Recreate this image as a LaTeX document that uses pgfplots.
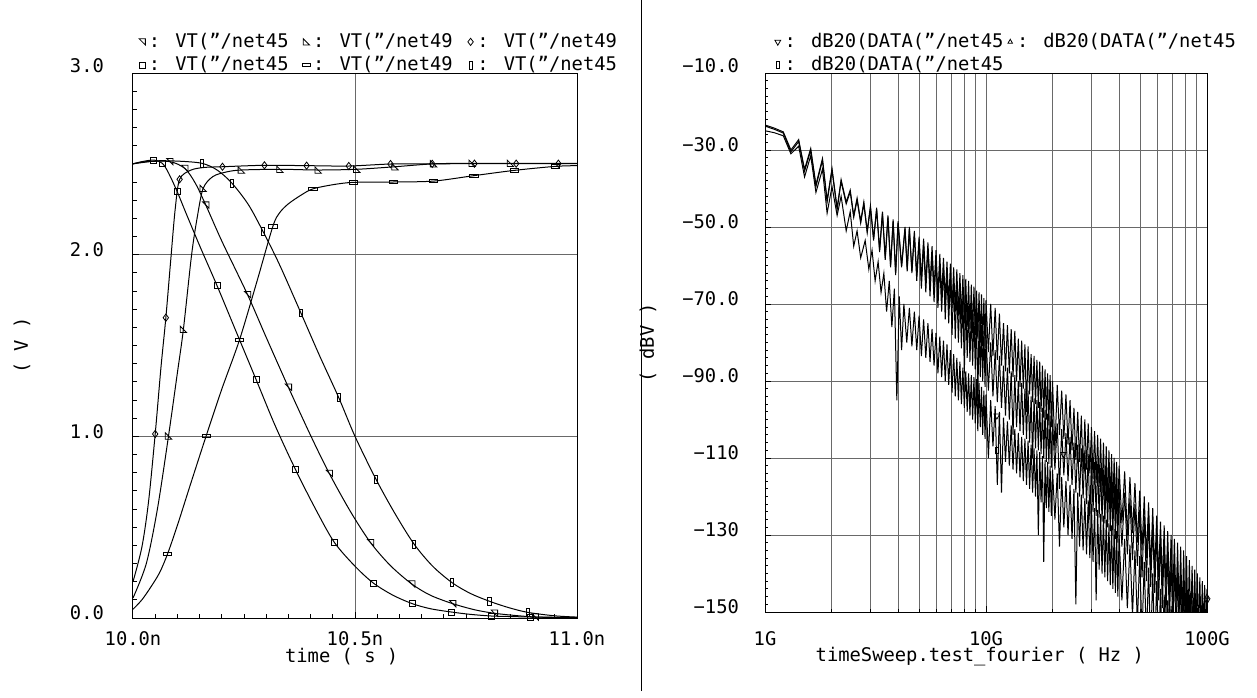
\documentclass[border=0pt]{standalone}
\usepackage{fontspec}
\setmainfont{DejaVu Sans Mono}
\usepackage{pgfplots}
\pgfplotsset{compat=1.18}
\definecolor{gridgray}{RGB}{105,105,105}
\pgfdeclareplotmark{rtri}{%
  \pgfpathmoveto{\pgfqpoint{-\pgfplotmarksize}{\pgfplotmarksize}}%
  \pgfpathlineto{\pgfqpoint{\pgfplotmarksize}{\pgfplotmarksize}}%
  \pgfpathlineto{\pgfqpoint{\pgfplotmarksize}{-\pgfplotmarksize}}%
  \pgfpathclose\pgfusepathqstroke}
\pgfdeclareplotmark{ltri}{%
  \pgfpathmoveto{\pgfqpoint{-\pgfplotmarksize}{\pgfplotmarksize}}%
  \pgfpathlineto{\pgfqpoint{-\pgfplotmarksize}{-\pgfplotmarksize}}%
  \pgfpathlineto{\pgfqpoint{\pgfplotmarksize}{-\pgfplotmarksize}}%
  \pgfpathclose\pgfusepathqstroke}
\pgfdeclareplotmark{hrect}{%
  \pgfpathrectangle{\pgfpoint{-1.4\pgfplotmarksize}{-0.55\pgfplotmarksize}}{\pgfpoint{2.8\pgfplotmarksize}{1.1\pgfplotmarksize}}%
  \pgfusepathqstroke}
\pgfdeclareplotmark{vrect}{%
  \pgfpathrectangle{\pgfpoint{-0.55\pgfplotmarksize}{-1.3\pgfplotmarksize}}{\pgfpoint{1.1\pgfplotmarksize}{2.6\pgfplotmarksize}}%
  \pgfusepathqstroke}
\newcommand\cadfont{\fontsize{9.4}{11}\selectfont}
\pgfplotsset{
  cad/.style={
    scale only axis,
    axis line style={line width=0.5pt},
    tick style={black, line width=0.5pt},
    tick align=inside, tickpos=left,
    major tick length=3pt, minor tick length=2.2pt,
    grid style={gridgray, line width=0.5pt},
    tick label style={font=\cadfont},
    label style={font=\cadfont},
    legend style={font=\cadfont, draw=none, fill=none, inner sep=0pt,
      nodes={inner sep=0.6pt}, row sep=1.8pt, column sep=0pt},
    legend cell align=left,
    legend image code/.code={\path (-2.6pt,0pt) (2.6pt,0pt);\draw[##1] plot coordinates {(0pt,0pt)};},
  },
}
\begin{document}
\begin{tikzpicture}[font=\cadfont]
\useasboundingbox (0,0) rectangle (628.5pt,348.5pt);
\draw[line width=0.5pt] (320.5pt,3pt) -- (320.5pt,348.5pt);
% ---------------- left: transient ----------------
\begin{axis}[cad,
  at={(66.5pt,39.5pt)}, anchor=south west, width=222pt, height=272.5pt,
  xmin=10, xmax=11, ymin=0, ymax=3,
  xtick={10,10.5,11}, xticklabels={10.0n,10.5n,11.0n}, minor x tick num=9,
  ytick={0,1,2,3}, yticklabels={0.0,1.0,2.0,\raisebox{2.5pt}{3.0}}, minor y tick num=9,
  xmajorgrids=true, ymajorgrids=true,
  xticklabel style={yshift=-3pt},
  yticklabel style={xshift=-11pt, yshift=2.5pt},
  xlabel={time ( s )}, ylabel={( V )},
  xlabel style={at={(axis description cs:0.47,0)}, anchor=center, yshift=-19.5pt},
  ylabel style={at={(axis description cs:-0.25,0.5)}, anchor=center, rotate=0},
  legend columns=3,
  legend style={at={(axis description cs:0,1)}, anchor=south west, xshift=1.6pt, yshift=-1.2pt,
    /tikz/every even column/.append style={column sep=5.5pt}},
]
% lines
\addplot[black, line width=0.5pt, smooth, forget plot] coordinates {
(10.000,2.500)(10.030,2.512)(10.083,2.512)(10.1165,2.475)(10.140,2.395)(10.164,2.273)(10.200,2.075)(10.258,1.780)(10.300,1.545)(10.350,1.270)(10.400,1.005)(10.442,0.796)(10.490,0.585)(10.535,0.415)(10.580,0.288)(10.628,0.187)(10.670,0.125)(10.720,0.079)(10.770,0.045)(10.814,0.026)(10.860,0.014)(10.906,0.0055)(10.950,0.003)(11.000,0.002)};
\addplot[black, line width=0.5pt, smooth, forget plot] coordinates {
(10.000,0.110)(10.030,0.300)(10.055,0.600)(10.080,1.002)(10.100,1.350)(10.1135,1.589)(10.132,2.000)(10.145,2.210)(10.158,2.365)(10.180,2.430)(10.210,2.455)(10.244,2.466)(10.331,2.470)(10.417,2.466)(10.504,2.470)(10.590,2.484)(10.677,2.500)(10.764,2.503)(10.850,2.503)(11.000,2.503)};
\addplot[black, line width=0.5pt, smooth, forget plot] coordinates {
(10.000,0.200)(10.020,0.390)(10.035,0.640)(10.050,1.013)(10.063,1.380)(10.074,1.653)(10.086,2.000)(10.095,2.250)(10.105,2.415)(10.130,2.465)(10.160,2.480)(10.2015,2.484)(10.296,2.492)(10.391,2.490)(10.486,2.488)(10.580,2.499)(10.674,2.500)(10.769,2.501)(10.863,2.501)(10.958,2.501)(11.000,2.501)};
\addplot[black, line width=0.5pt, smooth, forget plot] coordinates {
(10.000,2.500)(10.020,2.512)(10.047,2.521)(10.066,2.503)(10.080,2.450)(10.099,2.350)(10.120,2.225)(10.150,2.050)(10.189,1.831)(10.230,1.590)(10.277,1.314)(10.320,1.060)(10.366,0.817)(10.410,0.605)(10.453,0.418)(10.500,0.285)(10.541,0.193)(10.585,0.126)(10.629,0.079)(10.670,0.051)(10.717,0.033)(10.760,0.020)(10.807,0.011)(10.850,0.008)(10.895,0.0055)(10.950,0.004)(11.000,0.003)};
\addplot[black, line width=0.5pt, smooth, forget plot] coordinates {
(10.000,0.048)(10.020,0.100)(10.040,0.170)(10.060,0.250)(10.078,0.354)(10.100,0.510)(10.130,0.740)(10.165,1.004)(10.200,1.260)(10.240,1.532)(10.280,1.860)(10.315,2.156)(10.330,2.230)(10.350,2.280)(10.380,2.330)(10.405,2.362)(10.450,2.385)(10.496,2.398)(10.586,2.400)(10.677,2.405)(10.768,2.435)(10.859,2.464)(10.951,2.486)(11.000,2.490)};
\addplot[black, line width=0.5pt, smooth, forget plot] coordinates {
(10.000,2.500)(10.050,2.515)(10.100,2.515)(10.155,2.503)(10.190,2.465)(10.223,2.393)(10.260,2.275)(10.293,2.127)(10.330,1.945)(10.378,1.680)(10.420,1.445)(10.463,1.215)(10.500,1.000)(10.547,0.765)(10.590,0.575)(10.633,0.407)(10.675,0.285)(10.719,0.194)(10.760,0.135)(10.803,0.092)(10.845,0.058)(10.889,0.031)(10.950,0.012)(11.000,0.005)};
% marks
\addplot[black, only marks, mark=rtri, mark size=1.6pt, line width=0.4pt] coordinates {
(10.083,2.512)(10.1165,2.475)(10.164,2.273)(10.258,1.78)(10.35,1.27)(10.442,0.796)(10.535,0.415)(10.628,0.187)(10.72,0.079)(10.814,0.026)(10.906,0.0055)};
\addlegendentry{: VT("/net45}
\addplot[black, only marks, mark=ltri, mark size=1.6pt, line width=0.4pt] coordinates {
(10.08,1.002)(10.1135,1.589)(10.158,2.365)(10.244,2.466)(10.331,2.47)(10.417,2.466)(10.504,2.47)(10.59,2.484)(10.677,2.5)(10.764,2.503)(10.85,2.503)};
\addlegendentry{: VT("/net49}
\addplot[black, only marks, mark=diamond, mark size=1.8pt, line width=0.4pt] coordinates {
(10.05,1.013)(10.074,1.653)(10.105,2.415)(10.2015,2.484)(10.296,2.492)(10.391,2.49)(10.486,2.488)(10.58,2.499)(10.674,2.5)(10.769,2.501)(10.863,2.501)(10.958,2.501)};
\addlegendentry{: VT("/net49}
\addplot[black, only marks, mark=square, mark size=1.5pt, line width=0.4pt] coordinates {
(10.047,2.521)(10.066,2.503)(10.099,2.35)(10.189,1.831)(10.277,1.314)(10.366,0.817)(10.453,0.418)(10.541,0.193)(10.629,0.079)(10.717,0.033)(10.807,0.011)(10.895,0.0055)};
\addlegendentry{: VT("/net45}
\addplot[black, only marks, mark=hrect, mark size=1.5pt, line width=0.4pt] coordinates {
(10.078,0.354)(10.165,1.004)(10.24,1.532)(10.315,2.156)(10.405,2.362)(10.496,2.398)(10.586,2.4)(10.677,2.405)(10.768,2.435)(10.859,2.464)(10.951,2.486)};
\addlegendentry{: VT("/net49}
\addplot[black, only marks, mark=vrect, mark size=1.5pt, line width=0.4pt] coordinates {
(10.155,2.503)(10.223,2.393)(10.293,2.127)(10.378,1.68)(10.463,1.215)(10.547,0.765)(10.633,0.407)(10.719,0.194)(10.803,0.092)(10.889,0.031)};
\addlegendentry{: VT("/net45}
\end{axis}
% ---------------- right: spectrum ----------------
\begin{axis}[cad,
  at={(382.5pt,42.5pt)}, anchor=south west, width=221pt, height=269.5pt,
  xmode=log, xmin=1, xmax=100, ymin=-150, ymax=-10,
  xtick={1,10,100}, xticklabels={1G,10G,100G},
  minor xtick={2,3,4,5,6,7,8,9,20,30,40,50,60,70,80,90},
  ytick={-150,-130,...,-10},
  yticklabels={−150,−130,−110,−90.0,−70.0,−50.0,−30.0,\raisebox{2.5pt}{−10.0}},
  minor y tick num=9, minor tick length=1.4pt,
  xmajorgrids=true, xminorgrids=true, ymajorgrids=true,
  minor grid style={gridgray, line width=0.5pt},
  xticklabel style={yshift=-6pt},
  yticklabel style={xshift=-9.5pt, yshift=2.5pt},
  xlabel={timeSweep.test\_fourier ( Hz )}, ylabel={( dBV )},
  xlabel style={at={(axis description cs:0.486,0)}, anchor=center, yshift=-22.5pt},
  ylabel style={at={(axis description cs:-0.265,0.5)}, anchor=center, rotate=0},
  legend columns=2,
  legend style={at={(axis description cs:0,1)}, anchor=south west, xshift=3.4pt, yshift=-1.2pt},
]
% curve C (highest)
\addplot[black, line width=0.5pt, forget plot] coordinates {
(1,-23.5)(1.1,-24.3)(1.21,-25.3)(1.31,-30)(1.42,-27.3)(1.51,-35)(1.61,-29.6)(1.7,-39)(1.82,-32.2)(1.91,-43)(2.01,-34.8)(2.12,-45)(2.21,-37.7)(2.33,-43.5)(2.43,-40.4)(2.52,-47)(2.61,-42.5)(2.71,-48.5)(2.8,-43.5)(2.9,-51)(3,-44.5)(3.1,-53)(3.2,-45)(3.3,-56)(3.4,-46)(3.5,-58)(3.6,-47)(3.7,-60)(3.8,-48)(3.9,-62)(4,-48.5)(4.15,-60)(4.3,-50)(4.4,-61)
(4.50,-50.0)(4.62,-61.5)(4.74,-51.0)(4.86,-62.5)(4.98,-52.5)(5.10,-63.5)(5.22,-53.0)(5.34,-64.5)(5.46,-54.0)(5.58,-65.0)(5.70,-55.0)(5.82,-66.0)(5.94,-56.0)(6.06,-67.5)(6.18,-57.0)(6.30,-68.0)(6.42,-58.0)(6.54,-69.0)(6.66,-59.0)(6.78,-70.0)(6.90,-59.5)(7.02,-71.0)(7.14,-60.5)(7.26,-72.0)(7.38,-61.0)(7.50,-73.0)(7.62,-62.0)(7.74,-74.0)(7.86,-62.5)(7.98,-75.0)(8.10,-63.5)(8.22,-76.0)(8.34,-64.0)(8.46,-76.5)(8.58,-65.0)(8.70,-77.5)(8.82,-65.5)(8.94,-78.0)(9.06,-66.5)(9.18,-79.0)(9.30,-67.0)(9.42,-80.0)(9.54,-67.5)(9.66,-81.0)(9.78,-68.5)(9.90,-81.5)(10.0,-69.0)
(10.25,-82.5)(10.50,-70.0)(10.75,-83.5)(11.00,-71.0)(11.25,-84.5)(11.50,-72.5)(11.75,-86.0)(12.00,-75.0)(12.25,-87.5)(12.50,-75.5)(12.75,-88.0)(13.00,-76.5)(13.25,-89.0)(13.50,-77.0)(13.75,-90.0)(14.00,-79.0)(14.25,-91.5)(14.50,-79.5)(14.75,-92.0)(15.00,-80.5)(15.25,-98.0)(15.50,-81.0)(15.75,-93.5)(16.00,-83.0)(16.25,-95.5)(16.50,-83.5)(16.75,-96.0)(17.00,-84.5)(17.25,-97.0)(17.50,-85.0)(17.75,-98.0)(18.00,-86.0)(18.25,-99.5)(18.50,-87.0)(18.75,-100.0)(19.00,-88.0)(19.25,-101.5)(19.50,-88.5)(19.75,-102.0)(20.00,-90.0)
(20.5,-108.0)(21.0,-91.0)(21.5,-104.0)(22.0,-92.5)(22.5,-105.0)(23.0,-93.5)(23.5,-106.5)(24.0,-95.0)(24.5,-108.0)(25.0,-97.0)(25.5,-110.5)(26.0,-98.0)(26.5,-111.0)(27.0,-99.0)(27.5,-114.0)(28.0,-100.0)(28.5,-113.0)(29.0,-101.0)(29.5,-114.0)(30.0,-102.0)(30.5,-115.5)(31.0,-103.0)(31.5,-116.5)(32.0,-104.0)(32.5,-117.5)(33.0,-105.0)(33.5,-119.0)(34.0,-106.0)(34.5,-121.0)(35.0,-107.0)(35.5,-121.5)(36.0,-108.0)(36.5,-122.0)(37.0,-109.0)(37.5,-123.0)(38.0,-110.0)(38.5,-124.0)(39.0,-111.0)(39.5,-125.0)(40.0,-112.0)
(41.2,-127.0)(42.4,-113.5)(43.6,-130.0)(44.8,-115.0)(46.0,-129.5)(47.2,-116.5)(48.4,-132.0)(49.6,-118.5)(50.8,-134.0)(52.0,-120.0)(53.2,-136.0)(54.4,-121.5)(55.6,-139.0)(56.8,-123.0)(58.0,-139.5)(59.2,-125.0)(60.4,-141.0)(61.6,-126.5)(62.8,-143.0)(64.0,-127.5)(65.2,-144.0)(66.4,-129.0)(67.6,-146.0)(68.8,-130.0)(70.0,-147.0)(71.2,-131.0)(72.4,-149.0)(73.6,-132.0)(74.8,-150.5)(76.0,-133.0)(77.2,-152.0)(78.4,-134.0)(79.6,-153.0)(80.8,-135.5)(82.0,-153.5)(83.2,-136.5)(84.4,-154.0)(85.6,-138.0)(86.8,-155.0)(88.0,-139.0)(89.2,-155.0)(90.4,-140.0)(91.6,-156.0)(92.8,-141.0)(94.0,-156.0)(95.2,-142.0)(96.4,-156.0)(97.6,-143.0)(98.8,-156.0)(100,-144.0)};
% curve B (middle)
\addplot[black, line width=0.5pt, forget plot] coordinates {
(1,-23.8)(1.1,-24.6)(1.21,-25.6)(1.31,-30.5)(1.42,-27.8)(1.51,-35.5)(1.61,-30.1)(1.7,-39.5)(1.82,-32.7)(1.91,-43.5)(2.01,-35.3)(2.12,-45.5)(2.21,-38.2)(2.33,-44)(2.43,-40.9)(2.52,-47.5)(2.61,-43)(2.71,-49)(2.8,-44)(2.9,-51.5)(3,-45)(3.1,-53.5)(3.2,-45.5)(3.3,-56.5)(3.4,-46.5)(3.5,-58.5)(3.6,-47.5)(3.7,-60.5)(3.8,-48.5)(3.9,-62.5)(4,-49)(4.15,-60.5)(4.3,-50.5)(4.4,-61.5)
(4.50,-50.5)(4.62,-62.0)(4.74,-52.0)(4.86,-64.0)(4.98,-53.5)(5.10,-66.0)(5.22,-54.5)(5.34,-67.0)(5.46,-55.5)(5.58,-68.0)(5.70,-57.0)(5.82,-69.5)(5.94,-58.5)(6.06,-71.0)(6.18,-59.5)(6.30,-72.0)(6.42,-60.5)(6.54,-74.0)(6.66,-62.0)(6.78,-75.0)(6.90,-63.0)(7.02,-78.0)(7.14,-64.5)(7.26,-79.0)(7.38,-65.5)(7.50,-80.0)(7.62,-67.0)(7.74,-81.5)(7.86,-68.0)(7.98,-88.0)(8.10,-69.5)(8.22,-84.0)(8.34,-70.5)(8.46,-85.0)(8.58,-71.5)(8.70,-86.0)(8.82,-72.5)(8.94,-87.0)(9.06,-73.0)(9.18,-96.0)(9.30,-74.5)(9.42,-89.0)(9.54,-75.5)(9.66,-90.0)(9.78,-77.0)(9.90,-91.5)(10.0,-78.0)
(10.25,-92.5)(10.50,-80.0)(10.75,-94.0)(11.00,-82.0)(11.25,-95.5)(11.50,-83.5)(11.75,-97.0)(12.00,-86.0)(12.25,-99.0)(12.50,-86.5)(12.75,-100.0)(13.00,-87.5)(13.25,-104.0)(13.50,-88.5)(13.75,-102.0)(14.00,-90.0)(14.25,-103.0)(14.50,-90.5)(14.75,-104.0)(15.00,-92.0)(15.25,-105.0)(15.50,-92.5)(15.75,-106.0)(16.00,-94.0)(16.25,-110.0)(16.50,-94.5)(16.75,-107.5)(17.00,-95.0)(17.25,-108.0)(17.50,-95.5)(17.75,-109.0)(18.00,-97.0)(18.25,-110.0)(18.50,-97.5)(18.75,-111.0)(19.00,-98.5)(19.25,-111.5)(19.50,-99.0)(19.75,-112.5)(20.00,-100.0)
(20.5,-113.0)(21.0,-101.0)(21.5,-118.0)(22.0,-102.5)(22.5,-114.5)(23.0,-103.5)(23.5,-116.0)(24.0,-104.5)(24.5,-117.0)(25.0,-106.0)(25.5,-119.0)(26.0,-106.5)(26.5,-120.0)(27.0,-107.5)(27.5,-120.5)(28.0,-108.0)(28.5,-122.0)(29.0,-109.0)(29.5,-126.0)(30.0,-110.0)(30.5,-124.0)(31.0,-111.0)(31.5,-125.0)(32.0,-111.5)(32.5,-125.5)(33.0,-112.5)(33.5,-126.5)(34.0,-113.0)(34.5,-127.0)(35.0,-114.0)(35.5,-128.0)(36.0,-114.5)(36.5,-129.0)(37.0,-115.5)(37.5,-130.0)(38.0,-116.0)(38.5,-131.0)(39.0,-117.0)(39.5,-132.0)(40.0,-118.0)
(41.2,-133.0)(42.4,-119.0)(43.6,-135.0)(44.8,-120.5)(46.0,-136.5)(47.2,-122.0)(48.4,-138.0)(49.6,-123.5)(50.8,-141.0)(52.0,-125.0)(53.2,-142.0)(54.4,-126.0)(55.6,-143.5)(56.8,-127.5)(58.0,-145.0)(59.2,-129.5)(60.4,-147.0)(61.6,-131.0)(62.8,-149.0)(64.0,-132.5)(65.2,-151.0)(66.4,-134.0)(67.6,-153.0)(68.8,-136.0)(70.0,-155.0)(71.2,-137.5)(72.4,-157.0)(73.6,-139.0)(74.8,-158.0)(76.0,-140.5)(77.2,-160.0)(78.4,-142.0)(79.6,-160.0)(80.8,-144.0)(82.0,-160.0)(83.2,-145.5)(84.4,-160.0)(85.6,-147.0)(86.8,-160.0)(88.0,-148.0)(89.2,-160.0)(90.4,-149.0)(92.8,-160.0)(95.2,-150.0)(97.6,-160.0)(100,-151.0)};
% curve A (lowest)
\addplot[black, line width=0.5pt, forget plot] coordinates {
(1,-25)(1.1,-25.5)(1.21,-26.3)(1.31,-31)(1.42,-29)(1.51,-37)(1.61,-31.5)(1.7,-41)(1.82,-35)(1.91,-46.4)(2.01,-39.5)(2.12,-47)(2.21,-42)(2.33,-51)(2.43,-46)(2.52,-55)(2.61,-51)(2.71,-58)(2.84,-53.5)(2.95,-61)(3.05,-56)(3.15,-64)(3.25,-59)(3.35,-67)(3.45,-62)(3.55,-72)(3.65,-64)(3.75,-76)(3.85,-66)(3.95,-95)(4.05,-68)(4.15,-82)(4.25,-70)(4.38,-80)
(4.50,-71.0)(4.62,-81.0)(4.74,-72.0)(4.86,-82.0)(4.98,-73.0)(5.10,-83.5)(5.22,-74.0)(5.34,-84.0)(5.46,-75.0)(5.58,-85.0)(5.70,-76.5)(5.82,-86.0)(5.94,-77.5)(6.06,-88.0)(6.18,-78.5)(6.30,-89.0)(6.42,-79.5)(6.54,-90.0)(6.66,-80.5)(6.78,-91.0)(6.90,-82.0)(7.02,-93.0)(7.14,-83.0)(7.26,-94.0)(7.38,-84.0)(7.50,-95.0)(7.62,-85.0)(7.74,-96.0)(7.86,-86.5)(7.98,-97.0)(8.10,-87.5)(8.22,-98.0)(8.34,-88.0)(8.46,-99.0)(8.58,-88.5)(8.70,-100.0)(8.82,-89.0)(8.94,-101.0)(9.06,-89.5)(9.18,-103.0)(9.30,-90.5)(9.42,-102.0)(9.54,-91.5)(9.66,-104.0)(9.78,-92.5)(9.90,-105.0)(10.0,-93.5)
(10.25,-110.0)(10.50,-95.0)(10.75,-107.0)(11.00,-96.5)(11.25,-117.0)(11.50,-98.0)(11.75,-119.0)(12.00,-99.5)(12.25,-111.0)(12.50,-100.5)(12.75,-112.0)(13.00,-101.5)(13.25,-113.0)(13.50,-102.5)(13.75,-114.0)(14.00,-103.5)(14.25,-115.0)(14.50,-104.5)(14.75,-116.0)(15.00,-105.0)(15.25,-117.0)(15.50,-105.5)(15.75,-118.0)(16.00,-106.5)(16.25,-119.0)(16.50,-107.5)(16.75,-120.0)(17.00,-108.0)(17.25,-130.0)(17.50,-108.5)(17.75,-121.5)(18.00,-109.5)(18.25,-137.0)(18.50,-110.5)(18.75,-123.0)(19.00,-111.0)(19.25,-124.0)(19.50,-112.0)(19.75,-125.0)(20.00,-113.0)
(20.5,-126.0)(21.0,-114.0)(21.5,-133.0)(22.0,-115.0)(22.5,-128.0)(23.0,-116.0)(23.5,-130.0)(24.0,-117.0)(24.5,-131.0)(25.0,-118.0)(25.5,-148.0)(26.0,-119.0)(26.5,-133.0)(27.0,-119.5)(27.5,-134.0)(28.0,-120.5)(28.5,-135.0)(29.0,-121.0)(29.5,-136.0)(30.0,-122.0)(30.5,-137.0)(31.0,-123.0)(31.5,-147.0)(32.0,-123.5)(32.5,-139.0)(33.0,-124.5)(33.5,-140.0)(34.0,-125.0)(34.5,-141.0)(35.0,-126.0)(35.5,-142.0)(36.0,-127.0)(36.5,-143.0)(37.0,-127.5)(37.5,-144.0)(38.0,-128.5)(38.5,-145.0)(39.0,-129.0)(39.5,-146.0)(40.0,-130.0)
(41.2,-147.0)(42.4,-131.0)(43.6,-149.0)(44.8,-132.5)(46.0,-151.0)(47.2,-134.0)(48.4,-153.0)(49.6,-135.5)(50.8,-156.0)(52.0,-137.0)(53.2,-158.0)(54.4,-138.5)(55.6,-160.0)(56.8,-140.0)(58.0,-160.0)(59.2,-142.0)(60.4,-160.0)(61.6,-144.0)(62.8,-160.0)(64.0,-145.5)(65.2,-160.0)(66.4,-147.0)(67.6,-160.0)(68.8,-148.5)(70.0,-160.0)(72.4,-150.0)(75.0,-160.0)(77.0,-152.0)(80.0,-160.0)};
\addplot[black, only marks, mark=triangle, mark size=1.7pt, mark options={rotate=180}, line width=0.4pt] coordinates {
(11.2,-99)(22.4,-109)(100,-147)};
\addlegendentry{: dB20(DATA("/net45}
\addplot[black, only marks, mark=triangle, mark size=1.3pt, line width=0.4pt] coordinates {
(100,-146)};
\addlegendentry{: dB20(DATA("/net45}
\addplot[black, only marks, mark=vrect, mark size=1.3pt, line width=0.4pt] coordinates {
(11.2,-108)};
\addlegendentry{: dB20(DATA("/net45}
\end{axis}
\end{tikzpicture}
\end{document}
